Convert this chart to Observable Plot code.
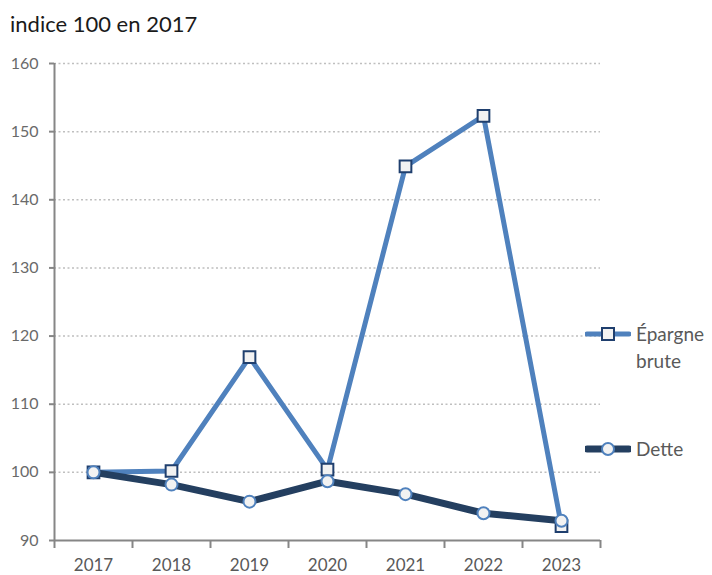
<!DOCTYPE html>
<html><head><meta charset="utf-8">
<script src="https://cdn.jsdelivr.net/npm/d3@7"></script>
<script src="https://cdn.jsdelivr.net/npm/@observablehq/plot@0.6"></script>
<style>
body{margin:0;background:#fff;font-family:Lato,"Open Sans",sans-serif;}
#wrap{position:relative;width:712px;height:575px;}
#sub{position:absolute;left:10px;top:10px;font-size:22px;color:#1a1a1a;}
.leg{position:absolute;left:585px;font-size:19px;color:#595959;display:flex;align-items:flex-start;line-height:27px;}
.leg svg{margin-right:5px;margin-top:7px}
</style></head><body>
<div id="wrap">
<div id="sub">indice 100 en 2017</div>
<div id="chart"></div>
<div class="leg" style="top:320px"><svg width="46" height="14"><line x1="2" x2="44" y1="7" y2="7" stroke="#4f81bd" stroke-width="5" stroke-linecap="round"/><rect x="17" y="1" width="12" height="12" fill="#f2f2f2" stroke="#1f3f6e" stroke-width="2"/></svg><div>Épargne<br>brute</div></div>
<div class="leg" style="top:435px"><svg width="46" height="14"><line x1="2" x2="44" y1="7" y2="7" stroke="#243f60" stroke-width="7" stroke-linecap="round"/><circle cx="23" cy="7" r="6" fill="#f2f2f2" stroke="#4f81bd" stroke-width="2"/></svg><div>Dette</div></div>
</div>
<script>
const years = [2017, 2018, 2019, 2020, 2021, 2022, 2023];
const epargne = [100, 100.2, 116.9, 100.4, 144.9, 152.3, 92.1];
const dette = [100, 98.2, 95.7, 98.7, 96.8, 94.0, 92.9];
const yTicks = [90, 100, 110, 120, 130, 140, 150, 160];

const ep = years.map((x, i) => ({x, y: epargne[i]}));
const de = years.map((x, i) => ({x, y: dette[i]}));
const bounds = years.map(y => y - 0.5).concat([years[years.length - 1] + 0.5]);

const chart = Plot.plot({
  width: 712, height: 575,
  marginLeft: 54, marginRight: 112, marginTop: 63, marginBottom: 35,
  style: {fontFamily: "Lato, 'Open Sans', sans-serif", fontSize: "16px", color: "#595959", background: "transparent"},
  x: {type: "linear", domain: [bounds[0], bounds[bounds.length - 1]]},
  y: {domain: [90, 160]},
  marks: [
    Plot.gridY(yTicks.slice(1), {stroke: "#bfbfbf", strokeOpacity: 1, strokeWidth: 1.5, strokeDasharray: "2,2.5"}),
    Plot.axisY(yTicks, {tickSize: 5, tickPadding: 11, stroke: "#868686", strokeWidth: 2, fill: "#6a6a6a", label: null, fontSize: 16}),
    Plot.axisX(bounds, {tickSize: 8, tickFormat: () => "", stroke: "#868686", strokeWidth: 2, label: null}),
    Plot.axisX(years, {tickSize: 0, tickPadding: 18, tickFormat: d => String(d), fill: "#595959", label: null, fontSize: 17}),
    Plot.ruleX([bounds[0]], {stroke: "#868686", strokeWidth: 2}),
    Plot.ruleY([90], {stroke: "#868686", strokeWidth: 2}),
    Plot.line(ep, {x: "x", y: "y", stroke: "#4f81bd", strokeWidth: 5}),
    Plot.dot(ep, {x: "x", y: "y", symbol: "square", r: 6.6, fill: "#f2f2f2", stroke: "#1f3f6e", strokeWidth: 2}),
    Plot.line(de, {x: "x", y: "y", stroke: "#243f60", strokeWidth: 7}),
    Plot.dot(de, {x: "x", y: "y", r: 6, fill: "#f2f2f2", stroke: "#4f81bd", strokeWidth: 2})
  ]
});
document.getElementById("chart").appendChild(chart);
</script>
</body></html>
